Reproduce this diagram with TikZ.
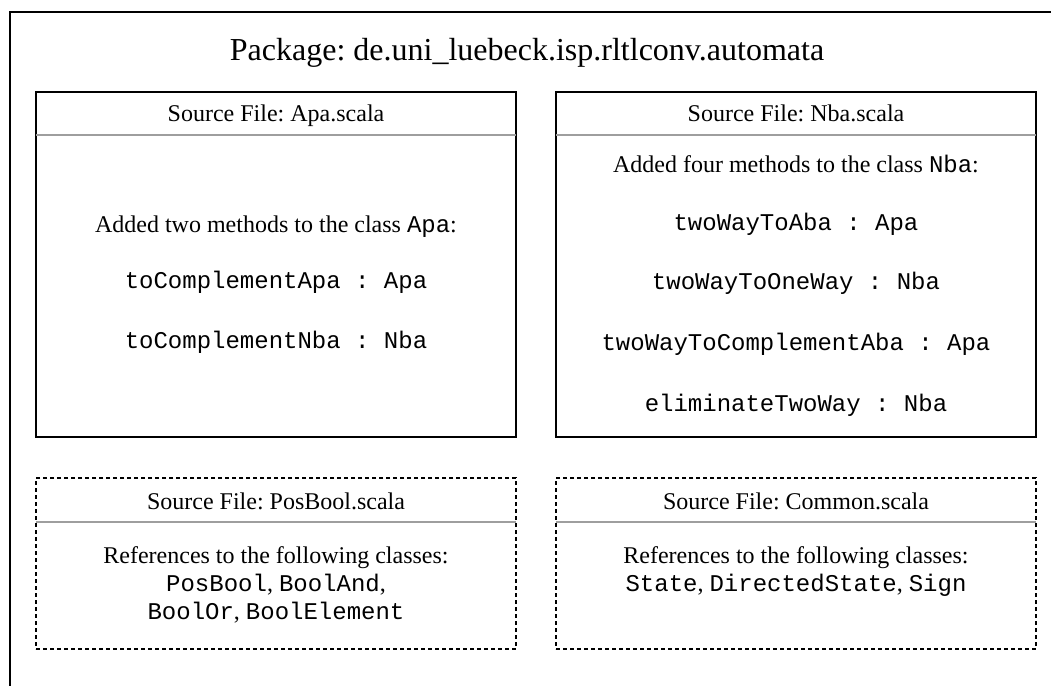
\documentclass[tikz,border=0pt]{standalone}
\usepackage{fontspec}
\setmainfont{Liberation Serif}
\setmonofont{Liberation Mono}
\frenchspacing
\begin{document}
\begin{tikzpicture}[x=1pt,y=-1pt,
  frame/.style={draw=black, line width=1.5pt},
  filebox/.style={draw=black, line width=1.3pt, anchor=north west, inner sep=0, outer sep=0, minimum width=480pt, minimum height=345pt},
  refbox/.style={draw=black, line width=1.2pt, dash pattern=on 4pt off 3pt, anchor=north west, inner sep=0, outer sep=0, minimum width=480pt, minimum height=171pt},
  sep/.style={draw=black!38, line width=1.3pt},
  txt/.style={anchor=base, inner sep=0, font=\fontsize{24}{28}\selectfont},
  ttl/.style={anchor=base, inner sep=0, font=\fontsize{32}{38}\selectfont}]
\useasboundingbox (0,0) rectangle (1051,685);
\draw[frame] (10,690) -- (10,12) -- (1056,12);
\node[ttl] (title) at (527,60) {Package: de.uni\_luebeck.isp.rltlconv.automata};
% Apa box
\node[filebox] (apa) at (36,92) {};
\draw[sep] (36,135) -- (516,135);
\node[txt] (apah) at (276,121) {Source File: Apa.scala};
\node[txt] (apa0) at (276,232) {Added two methods to the class \texttt{Apa}:};
\node[txt] (apa1) at (276,288) {\texttt{toComplementApa : Apa}};
\node[txt] (apa2) at (276,348) {\texttt{toComplementNba : Nba}};
% Nba box
\node[filebox] (nba) at (556,92) {};
\draw[sep] (556,135) -- (1036,135);
\node[txt] (nbah) at (796,121) {Source File: Nba.scala};
\node[txt] (nba0) at (796,172) {Added four methods to the class \texttt{Nba}:};
\node[txt] (nba1) at (796,230) {\texttt{twoWayToAba : Apa}};
\node[txt] (nba2) at (796,289) {\texttt{twoWayToOneWay : Nba}};
\node[txt] (nba3) at (796,350) {\texttt{twoWayToComplementAba : Apa}};
\node[txt] (nba4) at (796,411) {\texttt{eliminateTwoWay : Nba}};
% PosBool box
\node[refbox] (pos) at (36,478) {};
\draw[sep] (36,522) -- (516,522);
\node[txt] (posh) at (276,509) {Source File: PosBool.scala};
\node[txt] (pos0) at (276,563) {References to the following classes:};
\node[txt] (pos1) at (276,591) {\texttt{PosBool}, \texttt{BoolAnd},};
\node[txt] (pos2) at (276,619) {\texttt{BoolOr}, \texttt{BoolElement}};
% Common box
\node[refbox] (com) at (556,478) {};
\draw[sep] (556,522) -- (1036,522);
\node[txt] (comh) at (796,509) {Source File: Common.scala};
\node[txt] (com0) at (796,563) {References to the following classes:};
\node[txt] (com1) at (796,591) {\texttt{State}, \texttt{DirectedState}, \texttt{Sign}};
\end{tikzpicture}
\end{document}
